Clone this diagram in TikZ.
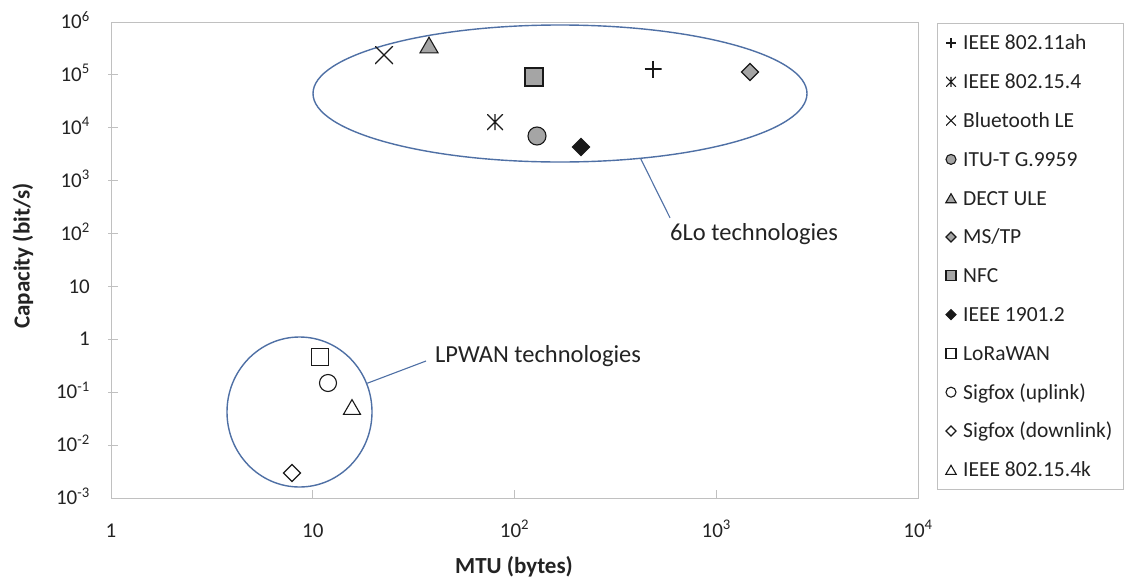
\documentclass[tikz,border=0pt]{standalone}
\usepackage{fontspec}
\setmainfont{Carlito}
\usetikzlibrary{shapes.geometric,shapes.misc}
\definecolor{axisgray}{RGB}{192,192,192}
\definecolor{ringblue}{RGB}{79,112,165}
\definecolor{markgray}{RGB}{165,165,165}
\definecolor{markline}{RGB}{25,25,25}
\definecolor{txt}{RGB}{35,35,35}
\begin{document}
\begin{tikzpicture}[x=1pt,y=-1pt,
  ticklab/.style={text=txt, inner sep=0pt, font=\fontsize{21}{25}\selectfont},
  legtext/.style={text=txt, inner sep=0pt, anchor=base west, font=\fontsize{21.5}{25}\selectfont},
  annot/.style={text=txt, inner sep=0pt, anchor=base west, font=\fontsize{24.5}{28}\selectfont},
  axtitle/.style={text=txt, inner sep=0pt, font=\bfseries\fontsize{23}{27}\selectfont},
  ring/.style={draw=ringblue, line width=1.4pt, ellipse, inner sep=0pt},
  leader/.style={draw=ringblue, line width=1.1pt},
  mk/.style={inner sep=0pt, outer sep=0pt, line width=1.1pt, draw=markline},
  gfill/.style={fill=markgray},
  bfill/.style={fill=markline},
  sqm/.style={mk, rectangle},
  circm/.style={mk, circle},
  diam/.style={mk, diamond, aspect=1},
  trim/.style={mk, regular polygon, regular polygon sides=3},
  plusm/.style={inner sep=0pt, rectangle, path picture={\draw[markline,line width=1.1pt]
     (path picture bounding box.north) -- (path picture bounding box.south)
     (path picture bounding box.west) -- (path picture bounding box.east);}},
  xm/.style={inner sep=0pt, rectangle, path picture={\draw[markline,line width=1.1pt]
     (path picture bounding box.north west) -- (path picture bounding box.south east)
     (path picture bounding box.south west) -- (path picture bounding box.north east);}},
  astm/.style={inner sep=0pt, rectangle, path picture={\draw[markline,line width=1.1pt]
     (path picture bounding box.north west) -- (path picture bounding box.south east)
     (path picture bounding box.south west) -- (path picture bounding box.north east)
     (path picture bounding box.north) -- (path picture bounding box.south);}},
]
\useasboundingbox (0,0) rectangle (1126,581);
\fill[white] (0,0) rectangle (1126,581);

% plot frame and ticks
\draw[axisgray, line width=1pt] (111,22) rectangle (918,498);
\foreach \i [evaluate=\i as \yy using 22+\i*52.889] in {1,...,8}
  \draw[axisgray, line width=1pt] (108,\yy) -- (118,\yy);
\foreach \k [evaluate=\k as \xx using 111+\k*201.75] in {1,2,3}
  \draw[axisgray, line width=1pt] (\xx,498) -- (\xx,490);

% y tick labels
\foreach \e/\t [evaluate=\e as \yy using 22+(6-\e)*52.889+6.6] in
  {6/10\textsuperscript{6},5/10\textsuperscript{5},4/10\textsuperscript{4},3/10\textsuperscript{3},
   2/10\textsuperscript{2},1/10,0/1,-1/10\textsuperscript{-1},-2/10\textsuperscript{-2},-3/10\textsuperscript{-3}}
  \node[ticklab, anchor=base east] (ylab\e) at (90,\yy) {\t};
% x tick labels
\foreach \k/\t [evaluate=\k as \xx using 111+\k*201.75] in
  {0/1,1/10,2/10\textsuperscript{2},3/10\textsuperscript{3},4/10\textsuperscript{4}}
  \node[ticklab, anchor=base] (xlab\k) at (\xx,537) {\t};

% axis titles
\node[axtitle, rotate=90] (ytitle) at (23,256) {Capacity (bit/s)};
\node[axtitle] (xtitle) at (514,567) {MTU (bytes)};

% grouping rings
\node[ring, minimum width=494pt, minimum height=137pt] (sixlo) at (560,93.5) {};
\node[ring, minimum width=145pt, minimum height=150pt] (lpwan) at (299.5,412) {};

% annotations
\node[annot] (lbl6lo) at (670,240) {6Lo technologies};
\node[annot] (lbllp) at (435,362) {LPWAN technologies};
\draw[leader] (sixlo.-39.7) -- ([yshift=5pt]lbl6lo.north west);
\draw[leader] (lpwan.23) -- ([xshift=-9pt,yshift=1pt]lbllp.base west);

% data points
\node[plusm, minimum size=17pt] (p11ah) at (653,69) {};
\node[astm, minimum size=16pt] (p154) at (495,122) {};
\node[xm, minimum size=18pt] (pble) at (384,55) {};
\node[circm, gfill, minimum size=18pt] (pitu) at (537,136) {};
\node[trim, gfill, minimum size=20.8pt] (pdect) at (429,47.6) {};
\node[diam, gfill, minimum size=17pt] (pmstp) at (750,72) {};
\node[sqm, gfill, minimum size=18pt] (pnfc) at (534,77) {};
\node[diam, bfill, minimum size=17pt] (p1901) at (581,147) {};
\node[sqm, minimum size=17pt] (plora) at (320,357) {};
\node[circm, minimum size=17pt] (psfup) at (328,383) {};
\node[diam, minimum size=17pt] (psfdn) at (292,473) {};
\node[trim, minimum size=19.6pt] (p154k) at (352,409.4) {};

% legend
\draw[axisgray, line width=1pt] (937,23) rectangle (1123,489);
\node[plusm, minimum size=10pt] (l1) at (951,43) {};
\node[legtext] (t1) at (963,49.9) {IEEE 802.11ah};
\node[astm, minimum size=10pt] (l2) at (951,81.8) {};
\node[legtext] (t2) at (963,88.7) {IEEE 802.15.4};
\node[xm, minimum size=10pt] (l3) at (951,120.6) {};
\node[legtext] (t3) at (963,127.5) {Bluetooth LE};
\node[circm, gfill, minimum size=10pt] (l4) at (951,159.4) {};
\node[legtext] (t4) at (963,166.3) {ITU-T G.9959};
\node[trim, gfill, minimum size=12pt] (l5) at (951,199.7) {};
\node[legtext] (t5) at (963,205.1) {DECT ULE};
\node[diam, gfill, minimum size=10pt] (l6) at (951,237) {};
\node[legtext] (t6) at (963,243.9) {MS/TP};
\node[sqm, gfill, minimum size=10pt] (l7) at (951,275.8) {};
\node[legtext] (t7) at (963,282.7) {NFC};
\node[diam, bfill, minimum size=10pt] (l8) at (951,314.6) {};
\node[legtext] (t8) at (963,321.5) {IEEE 1901.2};
\node[sqm, minimum size=10pt] (l9) at (951,353.4) {};
\node[legtext] (t9) at (963,360.3) {LoRaWAN};
\node[circm, minimum size=10pt] (l10) at (951,392.2) {};
\node[legtext] (t10) at (963,399.1) {Sigfox (uplink)};
\node[diam, minimum size=10pt] (l11) at (951,431) {};
\node[legtext] (t11) at (963,437.9) {Sigfox (downlink)};
\node[trim, minimum size=12pt] (l12) at (951,471.3) {};
\node[legtext] (t12) at (963,476.7) {IEEE 802.15.4k};
\end{tikzpicture}
\end{document}
